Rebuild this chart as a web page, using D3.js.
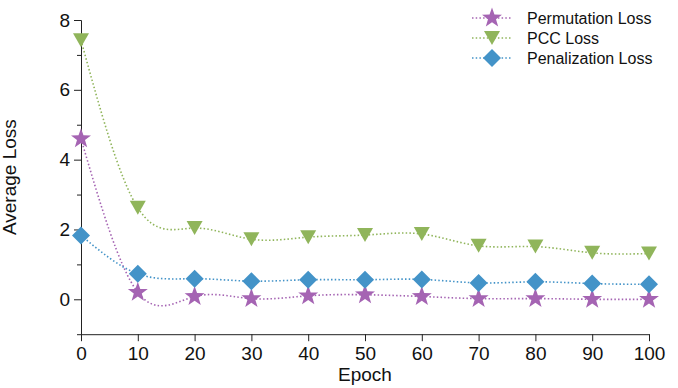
<!DOCTYPE html>
<html><head><meta charset="utf-8">
<script src="https://cdn.jsdelivr.net/npm/d3@7"></script>
<style>body{margin:0;background:#fff;} text{font-family:"Liberation Sans",Arial,Helvetica,sans-serif;fill:#111;}</style>
</head><body><svg id="c" width="678" height="388"></svg>
<script>
const epochs = [0,10,20,30,40,50,60,70,80,90,100];
const permutationLoss = [4.6,0.2,0.08,0.02,0.1,0.13,0.08,0.02,0.02,0.0,0.0];
const pccLoss = [7.42,2.62,2.04,1.72,1.78,1.84,1.87,1.53,1.51,1.33,1.31];
const penalizationLoss = [1.83,0.73,0.59,0.52,0.56,0.56,0.57,0.47,0.5,0.45,0.43];
const seriesNames = ["Permutation Loss","PCC Loss","Penalization Loss"];
const colors = ["#a564b3","#90b55b","#4393c8"];
const xTicks = [0,10,20,30,40,50,60,70,80,90,100];
const yMajor = [0,2,4,6,8];
const yMinor = [-1,1,3,5,7];

const svg = d3.select("#c");
const x = d3.scaleLinear().domain([0,100]).range([81,649]);
const y = d3.scaleLinear().domain([-1,8]).range([334.2,20]);

// axes
const ax = svg.append("g").attr("transform","translate(0,"+y(-1)+")")
  .call(d3.axisBottom(x).tickValues(xTicks).tickSize(7).tickPadding(5).tickSizeOuter(0));
ax.selectAll("text").style("font-size","19px").attr("dy","0.71em");
const ay = svg.append("g").attr("transform","translate("+x(0)+",0)")
  .call(d3.axisLeft(y).tickValues(yMajor).tickSize(7).tickPadding(4).tickSizeOuter(0));
ay.selectAll("text").style("font-size","19px");
svg.append("g").attr("transform","translate("+x(0)+",0)")
  .call(d3.axisLeft(y).tickValues(yMinor).tickSize(4).tickFormat("").tickSizeOuter(0));
svg.selectAll(".domain,.tick line").attr("stroke","#222").attr("stroke-width",1);
svg.selectAll(".tick text").attr("fill","#111");

svg.append("text").attr("x",x(50)).attr("y",381).attr("text-anchor","middle").style("font-size","19px").text("Epoch");
svg.append("text").attr("transform","translate(16,"+((y(8)+y(-1))/2)+") rotate(-90)").attr("text-anchor","middle").style("font-size","19px").text("Average Loss");

// marker paths
function starPath(R){const r=R*0.4;let p=[];for(let i=0;i<10;i++){const a=-Math.PI/2+i*Math.PI/5;const rr=i%2?r:R;p.push([rr*Math.cos(a),rr*Math.sin(a)]);}return "M"+p.map(d=>d.join(",")).join("L")+"Z";}
function triPath(w,h){return `M${-w/2},${-h/2}L${w/2},${-h/2}L0,${h/2}Z`;}
function diaPath(s){return `M0,${-s}L${s},0L0,${s}L${-s},0Z`;}
const markers = [starPath(10.5), triPath(16,14), diaPath(9)];

const data = [permutationLoss, pccLoss, penalizationLoss];
const line = d3.line().x((d,i)=>x(epochs[i])).y(d=>y(d)).curve(d3.curveNatural);
data.forEach((vals,k)=>{
  svg.append("path").attr("d",line(vals)).attr("fill","none").attr("stroke",colors[k])
    .attr("stroke-width",1.6).attr("stroke-dasharray","1.5,2.2");
});
data.forEach((vals,k)=>{
  svg.append("g").selectAll("path").data(vals).join("path")
    .attr("d",markers[k]).attr("transform",(d,i)=>`translate(${x(epochs[i])},${y(d)})`)
    .attr("fill",colors[k]);
});

// legend
seriesNames.forEach((n,k)=>{
  const ly = 18 + k*20;
  const g = svg.append("g");
  g.append("line").attr("x1",472).attr("x2",512).attr("y1",ly).attr("y2",ly)
    .attr("stroke",colors[k]).attr("stroke-width",1.6).attr("stroke-dasharray","1.5,2.2");
  g.append("path").attr("d",markers[k]).attr("transform",`translate(492,${ly})`).attr("fill",colors[k]);
  g.append("text").attr("x",527).attr("y",ly).attr("dy","0.35em").style("font-size","16px").text(n);
});
</script></body></html>
